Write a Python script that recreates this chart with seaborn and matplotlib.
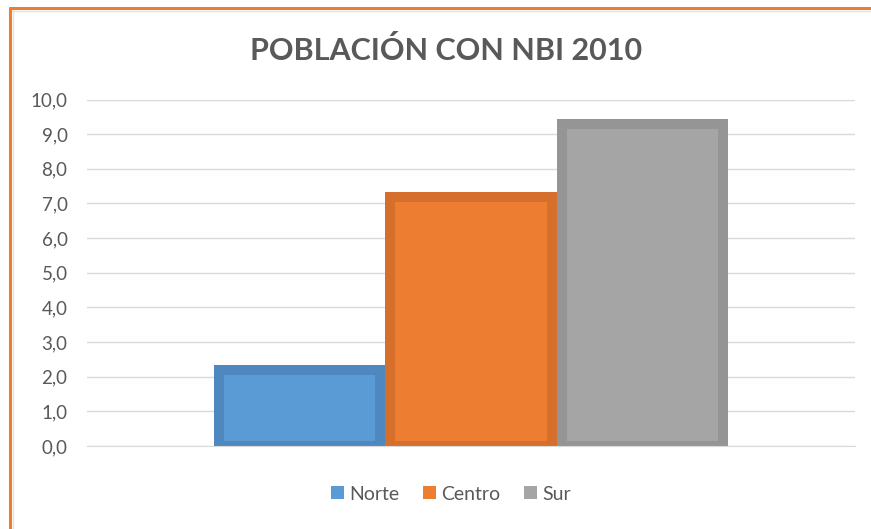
import pandas as pd
import matplotlib.pyplot as plt
import seaborn as sns
from matplotlib.patches import Patch
from matplotlib.lines import Line2D
from matplotlib.ticker import FuncFormatter


regiones = ["Norte", "Centro", "Sur"]
valores = [2.2, 7.2, 9.3]
colores = ["#5B9BD5", "#ED7D31", "#A5A5A5"]
bordes = ["#4F88BE", "#D66E2C", "#959595"]
titulo = "POBLACIÓN CON NBI 2010"

sns.set_style("white")
plt.rcParams['font.family'] = ['Lato', 'DejaVu Sans']

df = pd.DataFrame({"grupo": [""] * len(regiones), "region": regiones, "nbi": valores})

fig = plt.figure(figsize=(8.71, 5.29), dpi=100)
ax = fig.add_axes([87 / 871, 1 - 446 / 529, (855 - 87) / 871, (446 - 99.5) / 529])

sns.barplot(data=df, x="grupo", y="nbi", hue="region", hue_order=regiones,
            palette=colores, saturation=1, width=0.67, gap=0.06,
            linewidth=7.2, legend=False, ax=ax)
for p, c in zip(ax.patches, bordes):
    p.set_edgecolor(c)

ax.set_ylim(0, 10)
ax.set_yticks(range(0, 11))
ax.yaxis.set_major_formatter(FuncFormatter(lambda v, pos: f"{v:.1f}".replace(".", ",")))
ax.set_xticks([])
ax.set_xlabel("")
ax.set_ylabel("")
ax.grid(axis="y", color="#D9D9D9", linewidth=1)
ax.set_axisbelow(True)
sns.despine(ax=ax, left=True, top=True, right=True, bottom=False)
ax.spines["bottom"].set_color("#D9D9D9")
ax.tick_params(axis="y", length=0, pad=14, labelsize=13.5, labelcolor="#595959")

fig.text(446.5 / 871, 1 - 50 / 529, titulo, ha="center", va="center",
         fontsize=22, fontweight="bold", color="#595959")

handles = [Patch(facecolor=c, edgecolor="none", label=r) for c, r in zip(colores, regiones)]
fig.legend(handles=handles, loc="center", bbox_to_anchor=(451 / 871, 1 - 494 / 529),
           ncol=3, frameon=False, fontsize=14, labelcolor="#595959",
           handlelength=0.65, handleheight=0.65, handletextpad=0.3, columnspacing=1.2)

# marco naranja del gráfico (recortado a la derecha y abajo)
fig.add_artist(Line2D([10 / 871, 1], [1 - 8 / 529] * 2, color="#ED7D31", linewidth=2.2))
fig.add_artist(Line2D([10 / 871] * 2, [0, 1 - 8 / 529], color="#ED7D31", linewidth=2.2))
fig.add_artist(Line2D([12 / 871, 1], [1 - 11 / 529] * 2, color="#E3E3E3", linewidth=1))
fig.add_artist(Line2D([13 / 871] * 2, [0, 1 - 10 / 529], color="#E3E3E3", linewidth=1))

fig.savefig("out.png", dpi=100)
